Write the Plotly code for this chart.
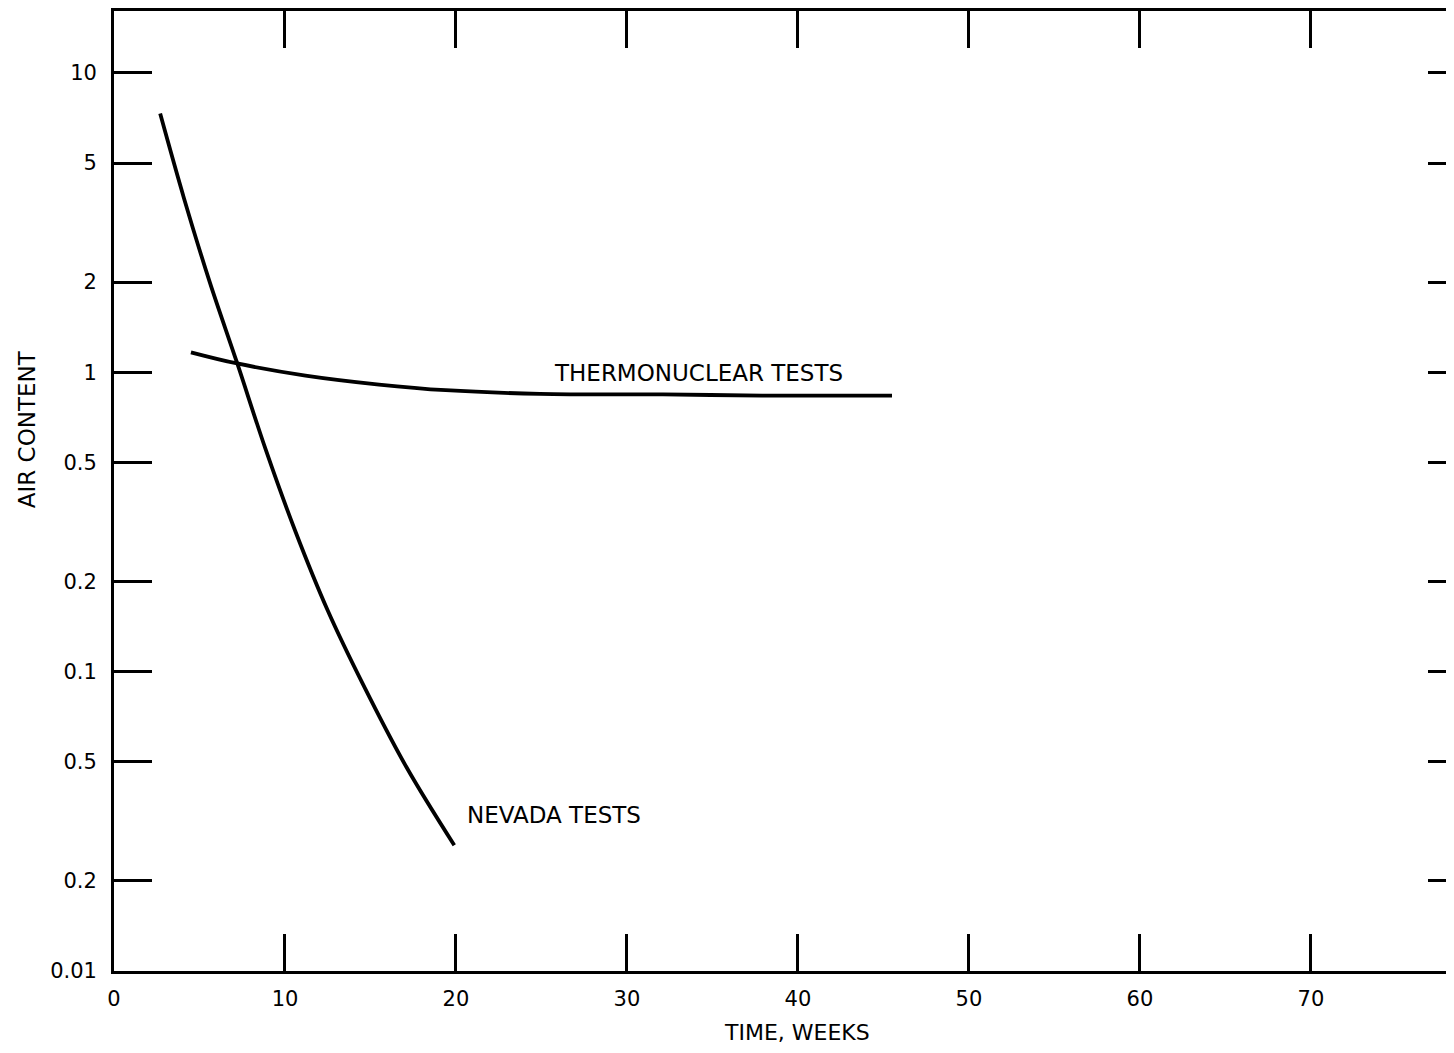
import plotly.graph_objects as go

# Nevada tests (weeks, air content)
nevada_weeks = [2.7, 4.1, 5.6, 7.2, 8.9, 10.6, 12.5, 14.55, 17.1, 19.9]
nevada_air = [7.31, 3.8, 2.0, 1.074, 0.546, 0.295, 0.160, 0.091, 0.048, 0.0263]

# Thermonuclear tests
thermo_weeks = [4.5, 7.2, 11.2, 15.5, 19.4, 24.9, 32.1, 37.9, 45.5]
thermo_air = [1.166, 1.07, 0.975, 0.91, 0.871, 0.847, 0.843, 0.836, 0.835]

# axis ticks
x_ticks = [0, 10, 20, 30, 40, 50, 60, 70]
y_ticks = [10, 5, 2, 1, 0.5, 0.2, 0.1, 0.05, 0.02, 0.01]
y_labels = ["10", "5", "2", "1", "0.5", "0.2", "0.1", "0.5", "0.2", "0.01"]

FONT = "DejaVu Sans"
INK = "black"

fig = go.Figure()

fig.add_trace(go.Scatter(
    x=nevada_weeks, y=nevada_air, mode="lines", line_shape="spline",
    line=dict(color=INK, width=3.8), showlegend=False, hoverinfo="skip"
))
fig.add_trace(go.Scatter(
    x=thermo_weeks, y=thermo_air, mode="lines", line_shape="spline",
    line=dict(color=INK, width=3.8), showlegend=False, hoverinfo="skip"
))
# dummy trace so the right-hand tick axis is drawn
fig.add_trace(go.Scatter(x=[None], y=[None], yaxis="y2", showlegend=False))

yrange = [-2, 1.2067]

fig.update_layout(
    width=1438, height=1037,
    margin=dict(l=106, r=0, t=1, b=74),
    paper_bgcolor="white", plot_bgcolor="white",
    font=dict(family=FONT, size=21, color=INK),
    xaxis=dict(
        range=[0, 77.9], tickvals=x_ticks, ticktext=[str(v) for v in x_ticks],
        ticks="inside", ticklen=37, tickwidth=2.5, tickcolor=INK,
        showline=True, linewidth=2.8, linecolor=INK, mirror="ticks",
        showgrid=False, zeroline=False, ticklabelstandoff=7,
    ),
    yaxis=dict(
        type="log", range=yrange, tickvals=y_ticks, ticktext=y_labels,
        ticks="inside", ticklen=38, tickwidth=2.5, tickcolor=INK,
        showline=True, linewidth=2.8, linecolor=INK, mirror=False,
        showgrid=False, zeroline=False, ticklabelstandoff=10,
    ),
    yaxis2=dict(
        type="log", range=yrange, overlaying="y", side="right",
        tickvals=y_ticks[:-1], ticks="inside", ticklen=18, tickwidth=2.5,
        tickcolor=INK, showline=False, showticklabels=False, showgrid=False,
        zeroline=False,
    ),
)

fig.add_annotation(x=25.64, y=-0.003, text="THERMONUCLEAR TESTS", showarrow=False,
                   xanchor="left", yanchor="middle", font=dict(size=23))
fig.add_annotation(x=20.5, y=-1.48, text="NEVADA TESTS", showarrow=False,
                   xanchor="left", yanchor="middle", font=dict(size=23))
fig.add_annotation(x=0.5128, y=-0.0644, xref="x domain", yref="y domain",
                   xanchor="center", yanchor="middle",
                   text="TIME, WEEKS", showarrow=False, font=dict(size=22))
fig.add_annotation(x=-0.0653, y=0.5644, xref="x domain", yref="y domain",
                   xanchor="center", yanchor="middle",
                   text="AIR CONTENT", textangle=-90, showarrow=False, font=dict(size=23))

fig.write_html("out.html")
